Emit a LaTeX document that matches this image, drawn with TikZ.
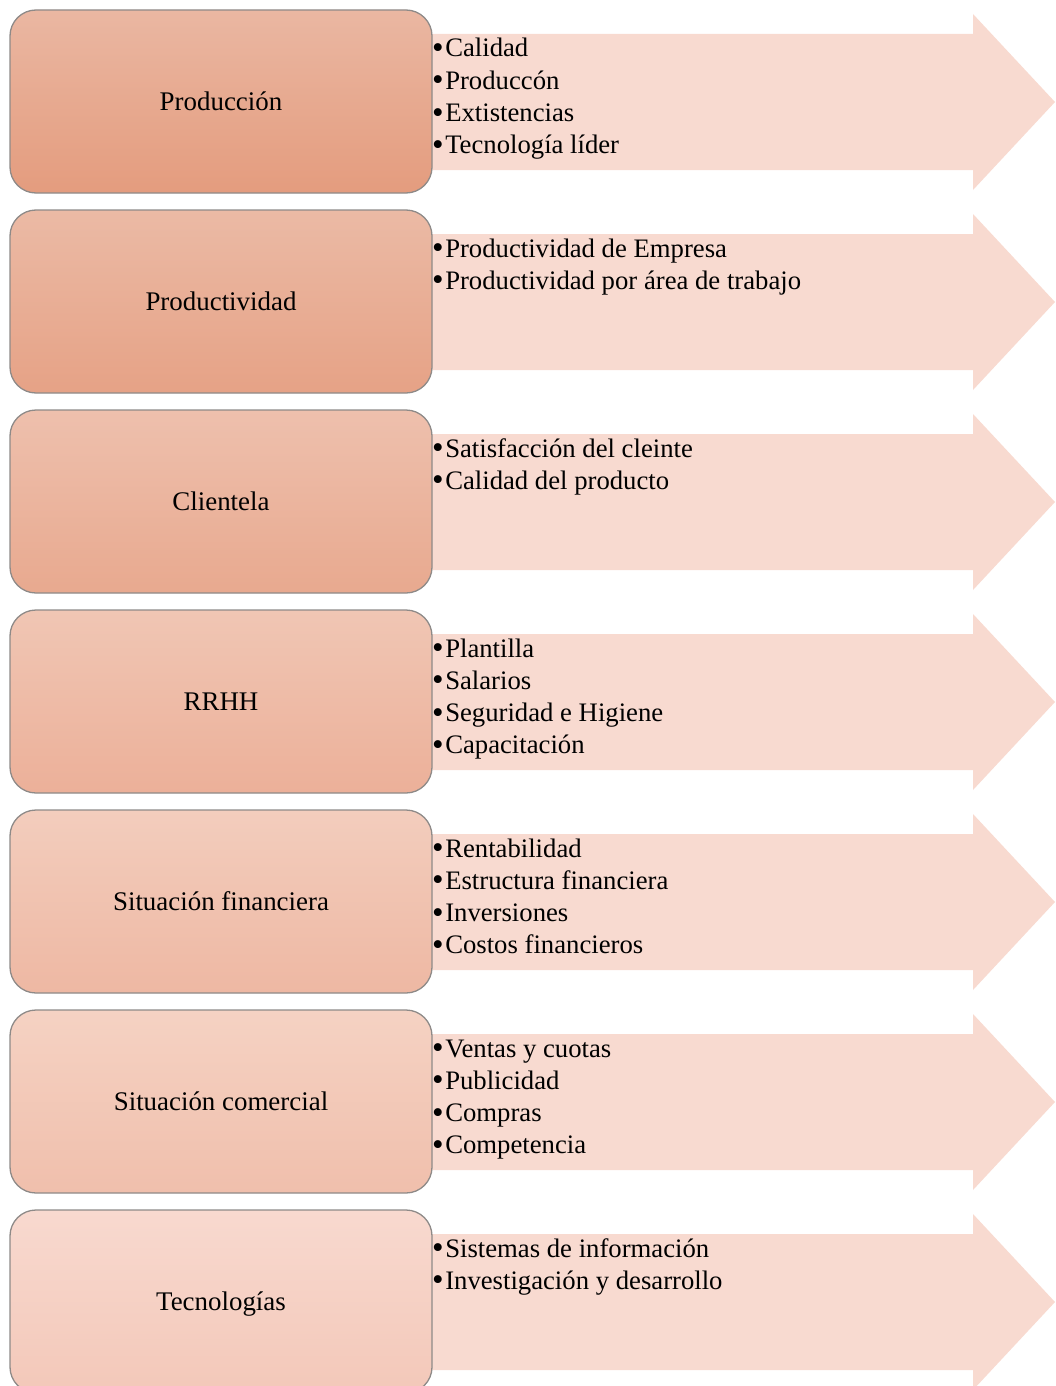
\documentclass[tikz,border=0pt]{standalone}
\usepackage{fontspec}
\setmainfont{Liberation Serif}
\definecolor{boxline}{HTML}{8E8A88}
\definecolor{arrowfill}{HTML}{F8DAD0}
\definecolor{ta}{HTML}{EAB7A2}\definecolor{ba}{HTML}{E49C7E}
\definecolor{tb}{HTML}{EBBAA5}\definecolor{bb}{HTML}{E6A286}
\definecolor{tc}{HTML}{EEC0AD}\definecolor{bc}{HTML}{E8A98F}
\definecolor{td}{HTML}{F0C6B4}\definecolor{bd}{HTML}{ECB099}
\definecolor{te}{HTML}{F3CDBD}\definecolor{be}{HTML}{EEB8A3}
\definecolor{tf}{HTML}{F5D2C3}\definecolor{bf}{HTML}{F0BFAC}
\definecolor{tg}{HTML}{F8D9CF}\definecolor{bg}{HTML}{F3C8B9}
\newcommand{\mybul}{\raisebox{-1.6pt}{\fontsize{33}{30}\selectfont •}\hspace{1.5pt}}
\begin{document}
\begin{tikzpicture}[x=1pt,y=1pt,
  catbox/.style={draw=boxline, line width=1.3pt, rounded corners=26pt,
    minimum width=422pt, minimum height=183pt, inner sep=0pt,
    text height=18pt, text depth=0pt, font=\fontsize{26.9}{30}\selectfont},
  itemtxt/.style={anchor=base west, inner sep=0pt, font=\fontsize{26.7}{30}\selectfont},
  arrowshape/.style={fill=arrowfill}]
\useasboundingbox (0,0) rectangle (1055,-1386);
\foreach \i/\c/\lab/\items in {
  0/a/{Producción}/{Calidad,Produccón,Extistencias,Tecnología líder},
  1/b/{Productividad}/{Productividad de Empresa,Productividad por área de trabajo},
  2/c/{Clientela}/{Satisfacción del cleinte,Calidad del producto},
  3/d/{RRHH}/{Plantilla,Salarios,Seguridad e Higiene,Capacitación},
  4/e/{Situación financiera}/{Rentabilidad,Estructura financiera,Inversiones,Costos financieros},
  5/f/{Situación comercial}/{Ventas y cuotas,Publicidad,Compras,Competencia},
  6/g/{Tecnologías}/{Sistemas de información,Investigación y desarrollo}}{
  \begin{scope}[yshift=-200*\i]
    \fill[arrowshape] (400,-34) -- (973,-34) -- (973,-14) -- (1055,-102)
      -- (973,-190) -- (973,-170) -- (400,-170) -- cycle;
    \node[catbox, top color=t\c, bottom color=b\c] (box\i) at (221,-101.5) {\lab};
    \foreach \t [count=\k from 0] in \items {
      \node[itemtxt] (item\i-\k) at (432,-57-32.3*\k) {\mybul\t};
    }
  \end{scope}
}
\end{tikzpicture}
\end{document}
